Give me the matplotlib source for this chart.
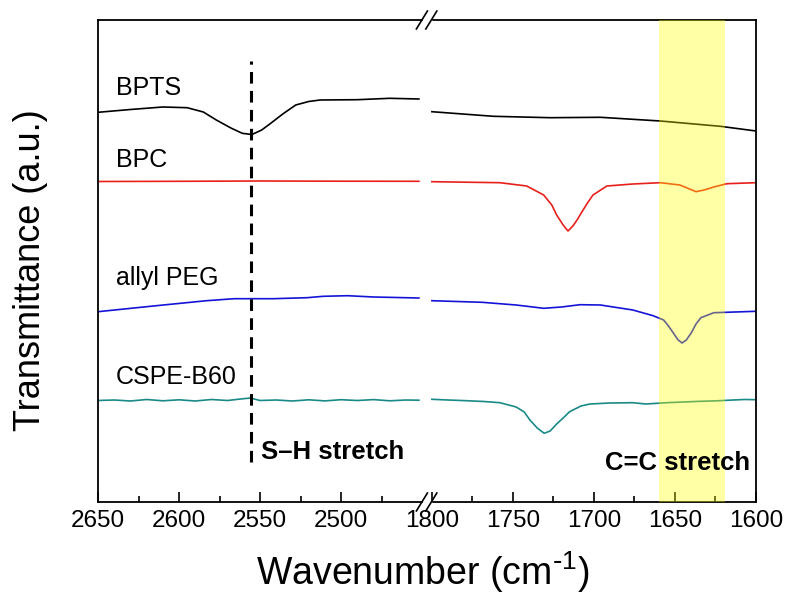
import numpy as np
import matplotlib.pyplot as plt

plt.rcParams["font.family"] = ["Liberation Sans", "DejaVu Sans"]

# ---- spectra (wavenumber in cm^-1, transmittance in a.u. with vertical offsets) ----
bpts_wn_hi = [2650, 2630, 2610, 2595, 2585, 2577, 2568, 2561, 2555, 2549, 2544, 2536, 2528, 2520, 2513, 2490, 2470, 2452]
bpts_t_hi = [389.7, 392.5, 395, 394.3, 390, 382, 374, 368.7, 367.5, 372, 378, 388, 397, 400.5, 402, 402.3, 403.7, 403]
bpts_wn_lo = [1800, 1762, 1727, 1696, 1659, 1622, 1600]
bpts_t_lo = [390.3, 385.7, 384.3, 384.7, 381, 375.7, 371]

bpc_wn_hi = [2650, 2600, 2550, 2500, 2452]
bpc_t_hi = [320.5, 320.7, 321, 320.8, 320.7]
bpc_wn_lo = [1800, 1758, 1741.5, 1731, 1726, 1723, 1719, 1716, 1713, 1710, 1708.6, 1704, 1700.6, 1692, 1676, 1659,
             1647, 1641, 1637, 1632, 1626, 1618, 1600]
bpc_t_lo = [320.3, 319.3, 316, 307, 297, 287, 277, 271, 276, 283, 287, 299, 307, 316, 318, 319.3,
            317, 313, 310.3, 312, 315, 318.3, 319.3]

peg_wn_hi = [2650, 2614, 2583, 2566, 2542, 2521, 2511, 2496, 2480, 2452]
peg_t_hi = [190.3, 196.3, 201.3, 203.3, 203.3, 204.3, 205.7, 206.3, 205, 204]
peg_wn_lo = [1800, 1769, 1748, 1731, 1720, 1708.6, 1696, 1676, 1663.5, 1657, 1654, 1651, 1648, 1645.6, 1643, 1640,
             1637, 1634, 1626, 1600]
peg_t_lo = [201.3, 199.7, 197, 193.7, 195, 197.3, 197, 192, 186.3, 182, 176, 169, 162, 159, 162, 169,
            178, 184.3, 189.3, 190.7]

cspe_wn_hi = [2650, 2640, 2630, 2620, 2610, 2600, 2590, 2580, 2570, 2562, 2556, 2550, 2540, 2530, 2520, 2510,
              2500, 2490, 2480, 2470, 2460, 2452]
cspe_t_hi = [101.5, 102, 101, 102.5, 101.2, 102.2, 101, 102.5, 101.5, 103, 104, 101.5, 102, 101, 102.2, 101.1,
             102.3, 101.5, 102.4, 101.2, 102, 101.8]
cspe_wn_lo = [1800, 1790, 1778.6, 1768, 1758, 1748, 1743, 1739.5, 1735, 1730.7, 1727, 1723, 1719, 1715, 1708,
              1702.5, 1690, 1676, 1668, 1655, 1645, 1634, 1624, 1614, 1607, 1600]
cspe_t_lo = [102.7, 102, 101.3, 100.5, 99.3, 95, 90, 82, 74, 68.7, 71, 78, 84, 90.3, 96,
             98, 99, 99.3, 98, 99.3, 100, 100.7, 101.2, 102, 102.5, 102.3]

series = [
    ("BPTS", "black", bpts_wn_hi, bpts_t_hi, bpts_wn_lo, bpts_t_lo, 414),
    ("BPC", "#e8201c", bpc_wn_hi, bpc_t_hi, bpc_wn_lo, bpc_t_lo, 342),
    ("allyl PEG", "#1414d8", peg_wn_hi, peg_t_hi, peg_wn_lo, peg_t_lo, 224),
    ("CSPE-B60", "#1a8a88", cspe_wn_hi, cspe_t_hi, cspe_wn_lo, cspe_t_lo, 125),
]

sh_peak = 2555.6
cc_band = (1660, 1619)

fig = plt.figure(figsize=(7.86, 5.97), dpi=100)
left, right, bottom, top = 98 / 786, 756 / 786, 95 / 597, 577 / 597
w = (right - left) / 2
ax1 = fig.add_axes([left, bottom, w, top - bottom])
ax2 = fig.add_axes([left + w, bottom, w, top - bottom])

for name, col, xh, yh, xl, yl, ylab in series:
    ax1.plot(xh, yh, color=col, lw=1.2)
    ax2.plot(xl, yl, color=col, lw=1.2)
    ax1.text(2639, ylab, name, fontsize=18, va="center", ha="left")

ax1.set_xlim(2650, 2447)
ax2.set_xlim(1803, 1600)
for ax in (ax1, ax2):
    ax.set_ylim(0, 482)
    ax.set_yticks([])
    ax.tick_params(axis="x", which="major", direction="in", length=7, width=1.2, labelsize=17.5, pad=6)
    ax.tick_params(axis="x", which="minor", direction="in", length=4.5, width=1.2)
    for s in ax.spines.values():
        s.set_linewidth(1.3)

ax1.set_xticks([2650, 2600, 2550, 2500])
ax1.set_xticks([2625, 2575, 2525, 2475], minor=True)
ax2.set_xticks([1800, 1750, 1700, 1650, 1600])
ax2.set_xticks([1775, 1725, 1675, 1625], minor=True)
ax1.spines["right"].set_visible(False)
ax2.spines["left"].set_visible(False)

ax1.vlines(sh_peak, 40, 441, colors="black", linestyles=(0, (3.8, 2.4)), lw=2.2)
ax1.text(2549.6, 50, "S\u2013H stretch", fontsize=18.5, fontweight="bold", va="center", ha="left")

ax2.axvspan(cc_band[0], cc_band[1], color="#ffff00", alpha=0.35, lw=0, zorder=5)
ax2.text(1603.5, 38.7, "C=C stretch", fontsize=18.5, fontweight="bold", va="center", ha="right", zorder=6)

fig.text(31 / 786, 1 - 270 / 597, "Transmittance (a.u.)", fontsize=26, rotation=90,
         ha="center", va="center")
fig.text(423 / 786, 12 / 597, "Wavenumber (cm$^{\\text{-}\\mathregular{1}}$)", fontsize=27,
         ha="center", va="baseline")

# axis break marks
bx = left + w
for yb in (bottom, top):
    fig.add_artist(plt.Line2D([bx - 0.004, bx + 0.004], [yb, yb], color="white", lw=2.5,
                              transform=fig.transFigure))
    for dx in (-0.0065, 0.0055):
        fig.add_artist(plt.Line2D([bx + dx - 0.007, bx + dx + 0.007], [yb - 0.015, yb + 0.015],
                                  color="black", lw=1.2, transform=fig.transFigure))

fig.savefig("out.png", dpi=100)
